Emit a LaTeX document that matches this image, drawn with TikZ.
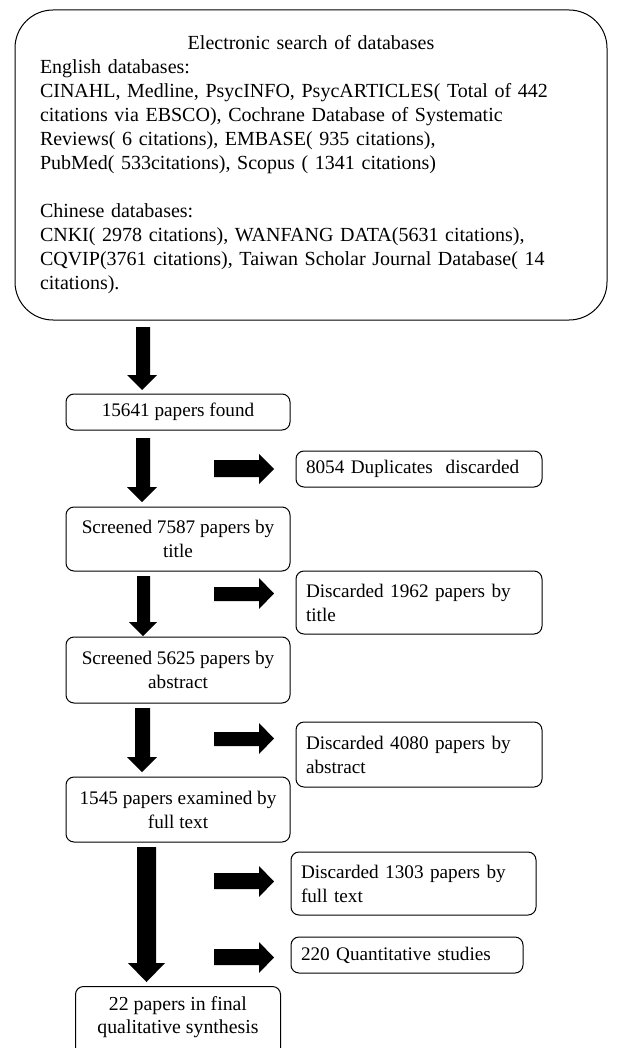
\documentclass[tikz,border=0pt]{standalone}
\usepackage{fontspec}
\setmainfont{Liberation Serif}
% down block arrow: shaft x1, shaft x2, top y, head x1, head x2, head base y, tip y
\newcommand\flowdown[7]{\fill (#1,#3) -- (#2,#3) -- (#2,#6) -- (#5,#6) -- ({(#4+#5)/2},#7) -- (#4,#6) -- (#1,#6) -- cycle;}
% right block arrow: start x, head base x, tip x, shaft y1, shaft y2, head y1, head y2
\newcommand\flowright[7]{\fill (#1,#4) -- (#2,#4) -- (#2,#6) -- (#3,{(#6+#7)/2}) -- (#2,#7) -- (#2,#5) -- (#1,#5) -- cycle;}
\begin{document}
\begin{tikzpicture}[x=1pt,y=-1pt,
  box/.style={draw,line width=1pt,rounded corners=8pt,inner sep=0pt,font=\fontsize{19.2}{24}\selectfont},
  lbox/.style 2 args={box,align=center,minimum width=#1,minimum height=#2},
  rbox/.style 2 args={box,align=left,inner xsep=10pt,text width=#1,minimum height=#2}]
\useasboundingbox (0,0) rectangle (619,1048);

\node[draw,line width=1pt,rounded corners=38pt,minimum width=592pt,minimum height=310pt,
      inner sep=0pt,text width=542pt,align=left,font=\fontsize{20}{24}\selectfont] (search) at (311,165)
{\makebox[542pt]{Electronic search of databases}\\
English databases:\\
CINAHL, Medline, PsycINFO, PsycARTICLES( Total of 442\\
citations via EBSCO), Cochrane Database of Systematic\\
Reviews( 6 citations), EMBASE( 935 citations),\\
PubMed( 533citations), Scopus ( 1341 citations)\\[24pt]
Chinese databases:\\
CNKI( 2978 citations), WANFANG DATA(5631 citations),\\
CQVIP(3761 citations), Taiwan Scholar Journal Database( 14\\
citations).};

\node[lbox={224pt}{36pt}] (found) at (178,412) {15641 papers found};
\node[lbox={224pt}{64pt}] (title) at (178,539) {Screened 7587 papers by\\title};
\node[lbox={224pt}{66pt}] (abstr) at (178,670) {Screened 5625 papers by\\abstract};
\node[lbox={224pt}{65pt}] (full) at (178,809.5) {1545 papers examined by\\full text};
\node[lbox={204pt}{60pt},draw=none,font=\fontsize{19.8}{23}\selectfont] (final) at (178,1017) {22 papers in final\\qualitative synthesis};
\draw[line width=1pt,rounded corners=8pt] (final.north west) rectangle ([yshift=-12pt]final.south east);

\node[rbox={226pt}{36pt}] (dup) at (419,469) {8054 Duplicates\ \ discarded};
\node[rbox={226pt}{63pt}] (dtitle) at (419,602.5) {Discarded 1962 papers by\\title};
\node[rbox={226pt}{65pt}] (dabstr) at (419,754.5) {Discarded 4080 papers by\\abstract};
\node[rbox={225pt}{63pt}] (dfull) at (413.5,883.5) {Discarded 1303 papers by\\full text};
\node[rbox={212pt}{36pt}] (quant) at (407,955) {220 Quantitative studies};

\flowdown{136}{150}{327}{127}{157}{375}{390}
\flowdown{136}{150}{438}{127}{157}{487}{502}
\flowdown{137}{150}{576}{129}{157}{622}{636}
\flowdown{135}{150}{708}{127}{157}{757}{772}
\flowdown{137}{156}{847}{128}{165}{963}{982}

\flowright{214}{259}{274}{460}{477}{454}{484}
\flowright{214}{259}{274}{587}{601}{578}{609}
\flowright{214}{259}{274}{732}{746}{723}{754}
\flowright{214}{259}{274}{873}{889}{866}{897}
\flowright{214}{259}{274}{949}{965}{942}{973}
\end{tikzpicture}
\end{document}
